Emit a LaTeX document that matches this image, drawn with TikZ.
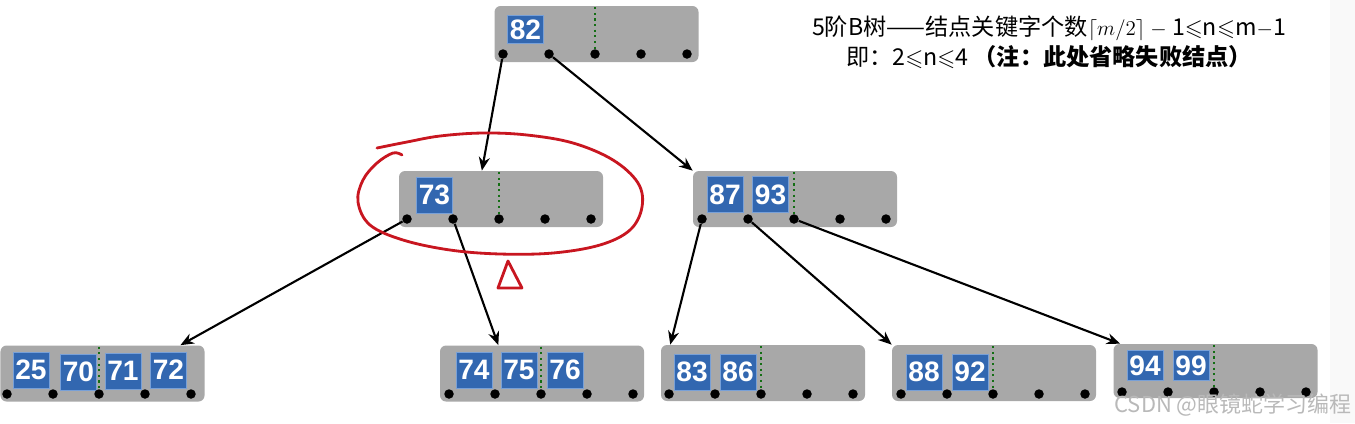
\documentclass[tikz,border=0pt]{standalone}
\usepackage{amssymb}
\usepackage{fontspec}
\usetikzlibrary{arrows.meta}
\newfontfamily\cjkfont{Noto Sans CJK SC}
\newfontfamily\keyfont{Liberation Sans}
\definecolor{boxgray}{RGB}{168,168,168}
\definecolor{keyblue}{RGB}{50,103,176}
\definecolor{keyedge}{RGB}{120,160,215}
\definecolor{splitgreen}{RGB}{20,110,20}
\definecolor{inkred}{RGB}{200,22,32}
\tikzset{
    btree/.style={x=0.2mm, y=-0.2mm, >={Stealth[length=2.7mm, width=2.2mm]}},
    bnode/.style={fill=boxgray, rounded corners=1.2mm, minimum width=40.8mm, minimum height=11.2mm, inner sep=0pt},
    key/.style={fill=keyblue, draw=keyedge, line width=0.3pt, text=white, inner sep=0pt,
        font=\keyfont\bfseries\fontsize{16}{16}\selectfont, minimum width=7.2mm, minimum height=7.2mm},
    ptr/.style={circle, fill=black, inner sep=0pt, minimum size=1.9mm},
    split/.style={draw=splitgreen, dotted, line width=1.2pt, shorten <=0.3mm},
    link/.style={->, line width=1.2pt},
    redink/.style={draw=inkred, line width=1.6pt, line cap=round, line join=round},
}

\begin{document}
\begin{tikzpicture}[btree]
    \useasboundingbox (0,0) rectangle (1355,423);
    \fill[gray!5] (1330,0) rectangle (1355,423);

    % tree nodes
    \node[bnode]                          (n82)   at (596.5,34)  {};
    \node[bnode]                          (n73)   at (501,199)   {};
    \node[bnode]                          (n87)   at (795,199)   {};
    \node[bnode]                          (n25)   at (102.5,373.5) {};
    \node[bnode]                          (n74)   at (542,373.5) {};
    \node[bnode]                          (n83)   at (763,373)   {};
    \node[bnode]                          (n88)   at (994,373)   {};
    \node[bnode, minimum height=10.8mm]   (n94)   at (1215.5,371) {};

    % keys
    \node[key, minimum height=5.6mm] (k82) at (525.5,29.5) {82};
    \node[key] (k73) at (434.5,195)   {73};
    \node[key] (k87) at (725,194.5)   {87};
    \node[key] (k93) at (770.5,194.5) {93};
    \node[key] (k25) at (31,370)      {25};
    \node[key] (k70) at (78.5,372)    {70};
    \node[key] (k71) at (123,371)     {71};
    \node[key] (k72) at (168.5,370)   {72};
    \node[key] (k74) at (474,370)     {74};
    \node[key] (k75) at (519,370)     {75};
    \node[key] (k76) at (565,370)     {76};
    \node[key] (k83) at (692,372)     {83};
    \node[key] (k86) at (738,372)     {86};
    \node[key] (k88) at (924,372)     {88};
    \node[key] (k92) at (970,372)     {92};
    \node[key, minimum height=6mm] (k94) at (1145,365.5) {94};
    \node[key, minimum height=6mm] (k99) at (1191,365.5) {99};

    % pointer dots, five per node
    \foreach \n/\x/\y in {n82/503/54, n73/407/219, n87/702/219, n25/7/394,
                          n74/449/394, n83/669/394, n88/901/394, n94/1122/392}
        \foreach \i in {0,...,4}
            \node[ptr] (\n-p\i) at (\x+46*\i,\y) {};

    % middle split
    \foreach \n in {n82, n73, n87, n25, n74, n83, n88, n94}
        \draw[split] (\n.north -| \n-p2) -- (\n-p2);

    % child pointers
    \draw[link] (n82-p0) -- (n73.124);
    \draw[link] (n82-p1) -- (n87.north west);
    \draw[link] (n73-p0) -- (n25.20);
    \draw[link] (n73-p1) -- (n74.147);
    \draw[link] (n87-p0) -- (n83.163);
    \draw[link] (n87-p1) -- (n88.north west);
    \draw[link] (n87-p2) -- (n94.164);

    % hand-drawn marks
    \draw[redink] plot[smooth, tension=0.6] coordinates {(377,148) (407,142) (440,136) (483,133)
        (527,135) (573,143) (613,160) (638,183) (642,207) (630,230) (600,245) (553,253)
        (500,254) (450,250) (403,240) (370,225) (358,202) (363,180) (377,163) (393,153) (402,155)};
    \draw[redink] (508,261) -- (498,288) -- (522,288) -- cycle;

    \node[font=\cjkfont\fontsize{13.2}{17}\selectfont, align=center, inner sep=0pt] (note) at (1049,42)
        {5阶B树——结点关键字个数$\lceil m/2\rceil$ $-$ 1$\leqslant$n$\leqslant$m$-$1\\
         即：2$\leqslant$n$\leqslant$4 \textbf{（注：此处省略失败结点）}};
    \node[font=\cjkfont\fontsize{12.5}{13}\selectfont, text=gray!55, inner sep=0pt] (wm) at (1233,405)
        {CSDN @眼镜蛇学习编程};
\end{tikzpicture}
\end{document}
